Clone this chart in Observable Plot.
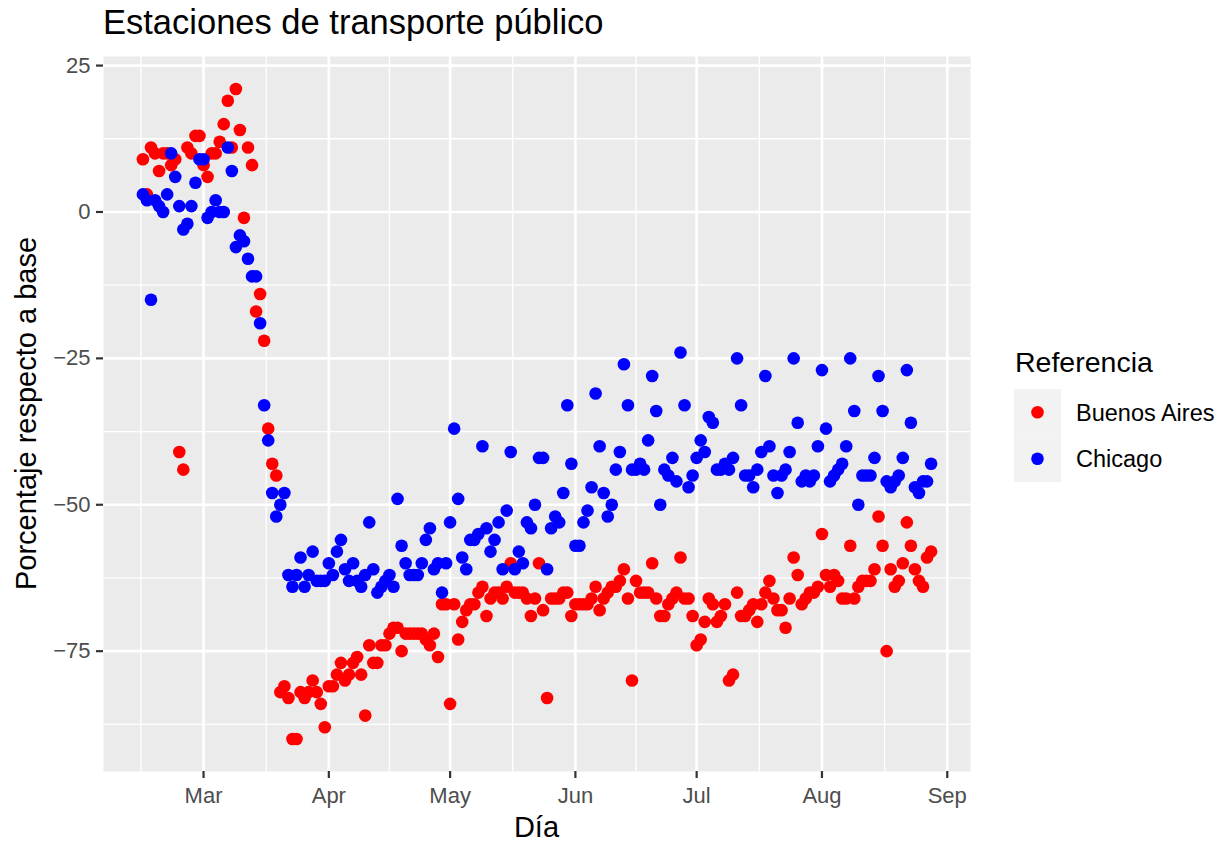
<!DOCTYPE html>
<html>
<head>
<meta charset="utf-8">
<script src="https://cdn.jsdelivr.net/npm/d3@7"></script>
<script src="https://cdn.jsdelivr.net/npm/@observablehq/plot@0.6"></script>
<style>
  html, body { margin: 0; padding: 0; background: #ffffff; }
  #wrap { position: relative; width: 1226px; height: 842px; }
</style>
</head>
<body>
<div id="wrap"></div>
<script>
// ---------- data ----------
const startDate = "2020-02-15";           // first day of the daily series
const cities = ["Buenos Aires", "Chicago"];
const cityColors = ["#FF0000", "#0000FF"];

// Buenos Aires, daily values from 2020-02-15
const baValues = [
  9, 3, 11, 10, 7, 10, 10, 8, 9,
  -41, -44, 11, 10, 13, 13,
  8, 6, 10, 10, 12, 15, 19, 11, 21, 14,
  -1, 11, 8, -17, -14, -22, -37, -43, -45, -82,
  -81, -83, -90, -90, -82, -83, -82, -80, -82, -84,
  -88, -81, -81, -79, -77, -80, -79, -77, -76, -79,
  -86, -74, -77, -77, -74, -74, -72, -71, -71, -75,
  -72, -72, -72, -72, -72, -73, -74, -72, -76, -67,
  -67, -84, -67, -73, -70, -68, -67, -67, -65, -64,
  -69, -66, -65, -65, -66, -64, -60, -65, -65, -65,
  -66, -69, -66, -60, -68, -83, -66, -66, -66, -65,
  -65, -69, -67, -67, -67, -67, -66, -64, -68, -66,
  -65, -64, -64, -63, -61, -66, -80, -63, -65, -65,
  -65, -60, -66, -69, -69, -67, -66, -65, -59, -66,
  -66, -69, -74, -73, -70, -66, -67, -70, -69, -67,
  -80, -79, -65, -69, -69, -68, -67, -70, -67, -65,
  -63, -66, -68, -68, -71, -66, -59, -62, -67, -66,
  -65, -65, -64, -55, -62, -64, -62, -63, -66, -66,
  -57, -66, -64, -63, -63, -63, -61, -52, -57, -75,
  -61, -64, -63, -60, -53, -57, -61, -63, -64, -59, -58
];

// Chicago, daily values from 2020-02-15
const chiValues = [
  3, 2, -15, 2, 1, 0, 3, 10, 6, 1,
  -3, -2, 1, 5, 9,
  9, -1, 0, 2, 0, 0, 11, 7, -6, -4,
  -5, -8, -11, -11, -19, -33, -39, -48, -52, -50,
  -48, -62, -64, -62, -59, -64, -62, -58, -63, -63,
  -63, -60, -62, -58, -56, -61, -63, -60, -63, -64,
  -62, -53, -61, -65, -64, -63, -62, -64, -49, -57,
  -60, -62, -62, -62, -60, -56, -54, -61, -60, -65,
  -60, -53, -37, -49, -59, -61, -56, -56, -55, -40,
  -54, -58, -56, -53, -61, -51, -41, -61, -58, -60,
  -53, -54, -50, -42, -42, -61, -54, -52, -53, -48,
  -33, -43, -57, -57, -53, -51, -47, -31, -40, -48,
  -52, -50, -44, -41, -26, -33, -44, -44, -43, -44,
  -39, -28, -34, -50, -44, -45, -42, -46, -24, -33,
  -47, -45, -42, -39, -41, -35, -36, -44, -44, -43,
  -44, -42, -25, -33, -45, -45, -47, -44, -41, -28,
  -40, -45, -48, -45, -44, -41, -25, -36, -46, -45,
  -46, -45, -40, -27, -37, -46, -45, -44, -43, -40,
  -25, -34, -50, -45, -45, -45, -42, -28, -34, -46,
  -47, -46, -45, -42, -27, -36, -47, -48, -46, -46, -43
];

const xTickDates = ["2020-03-01", "2020-04-01", "2020-05-01", "2020-06-01", "2020-07-01", "2020-08-01", "2020-09-01"];
const xTickLabels = ["Mar", "Apr", "May", "Jun", "Jul", "Aug", "Sep"];
const yTicks = [-75, -50, -25, 0, 25];
const yTickLabels = ["\u221275", "\u221250", "\u221225", "0", "25"];

const titleText = "Estaciones de transporte público";
const xLabel = "Día";
const yLabel = "Porcentaje respecto a base";
const legendTitle = "Referencia";

// ---------- build table ----------
const start = new Date(startDate + "T00:00:00Z");
const rows = [];
[baValues, chiValues].forEach((vals, ci) => {
  vals.forEach((v, i) => rows.push({ date: d3.utcDay.offset(start, i), value: v, city: cities[ci] }));
});

// ggplot-like 5% expansion of the data range
const xExt = d3.extent(rows, d => d.date);
const xSpan = xExt[1] - xExt[0];
const xDomain = [new Date(+xExt[0] - 0.05 * xSpan), new Date(+xExt[1] + 0.05 * xSpan)];
const yExt = d3.extent(rows, d => d.value);
const ySpan = yExt[1] - yExt[0];
const yDomain = [yExt[0] - 0.05 * ySpan, yExt[1] + 0.05 * ySpan];

const xMajor = xTickDates.map(s => new Date(s + "T00:00:00Z"));
// ggplot regular minor breaks: midpoints, extended by one break step at each side
const xStep = xMajor[1] - xMajor[0];
const xExtended = [new Date(+xMajor[0] - xStep), ...xMajor, new Date(+xMajor[xMajor.length - 1] + xStep)];
const xMinor = d3.pairs(xExtended, (a, b) => new Date((+a + +b) / 2))
  .filter(d => d >= xDomain[0] && d <= xDomain[1]);
const yStep = yTicks[1] - yTicks[0];
const yExtended = [yTicks[0] - yStep, ...yTicks, yTicks[yTicks.length - 1] + yStep];
const yMinor = d3.pairs(yExtended, (a, b) => (a + b) / 2)
  .filter(d => d >= yDomain[0] && d <= yDomain[1]);

const xLabelMap = new Map(xMajor.map((d, i) => [+d, xTickLabels[i]]));
const yLabelMap = new Map(yTicks.map((d, i) => [d, yTickLabels[i]]));

// ---------- layout ----------
const W = 1226, H = 842;
const mL = 103, mR = 256, mT = 56, mB = 71;
const font = "'Liberation Sans', Arial, Helvetica, sans-serif";

const chart = Plot.plot({
  width: W, height: H,
  marginLeft: mL, marginRight: mR, marginTop: mT, marginBottom: mB,
  style: { fontFamily: font, background: "transparent", overflow: "visible" },
  x: { type: "utc", domain: xDomain },
  y: { domain: yDomain },
  color: { domain: cities, range: cityColors },
  marks: [
    Plot.frame({ fill: "#EBEBEB", stroke: "none" }),
    Plot.ruleY(yMinor, { stroke: "#FFFFFF", strokeWidth: 1.3 }),
    Plot.ruleX(xMinor, { stroke: "#FFFFFF", strokeWidth: 1.3 }),
    Plot.ruleY(yTicks, { stroke: "#FFFFFF", strokeWidth: 2.6 }),
    Plot.ruleX(xMajor, { stroke: "#FFFFFF", strokeWidth: 2.6 }),
    Plot.axisY(yTicks, {
      anchor: "left", tickSize: 7, tickPadding: 6, stroke: "#333333", strokeWidth: 2.2,
      color: "#4D4D4D", fontSize: 22, tickFormat: d => yLabelMap.get(d), label: null
    }),
    Plot.axisX(xMajor, {
      anchor: "bottom", tickSize: 7, tickPadding: 9, stroke: "#333333", strokeWidth: 2.2,
      color: "#4D4D4D", fontSize: 22, tickFormat: d => xLabelMap.get(+d), label: null
    }),
    Plot.dot(rows, { x: "date", y: "value", fill: "city", r: 6.3, stroke: "none" })
  ]
});

document.getElementById("wrap").appendChild(chart);

// ---------- titles & legend (text) ----------
const svg = d3.select(chart);
const g = svg.append("g").attr("font-family", font);

g.append("text")
  .attr("x", mL).attr("y", 34)
  .attr("text-anchor", "start")
  .attr("font-size", 34.5).attr("fill", "#000")
  .text(titleText);

g.append("text")
  .attr("x", (mL + (W - mR)) / 2).attr("y", 837)
  .attr("text-anchor", "middle").attr("font-size", 29).attr("fill", "#000")
  .text(xLabel);

g.append("text")
  .attr("transform", `translate(36,${(mT + (H - mB)) / 2}) rotate(-90)`)
  .attr("text-anchor", "middle").attr("font-size", 29).attr("fill", "#000")
  .text(yLabel);

// legend
const lg = g.append("g").attr("text-anchor", "start");
lg.append("text")
  .attr("x", 1015).attr("y", 372)
  .attr("text-anchor", "start")
  .attr("font-size", 28.5).attr("fill", "#000")
  .text(legendTitle);
const keyH = 46.5;
cities.forEach((c, i) => {
  const y0 = 389 + i * keyH;
  lg.append("rect").attr("x", 1014).attr("y", y0).attr("width", 47).attr("height", keyH).attr("fill", "#F2F2F2");
  lg.append("circle").attr("cx", 1037.5).attr("cy", y0 + keyH / 2).attr("r", 6.3).attr("fill", cityColors[i]);
  lg.append("text")
    .attr("x", 1076).attr("y", y0 + keyH / 2 + 8.5)
    .attr("text-anchor", "start")
    .attr("font-size", 23.5).attr("fill", "#000")
    .text(c);
});
</script>
</body>
</html>
